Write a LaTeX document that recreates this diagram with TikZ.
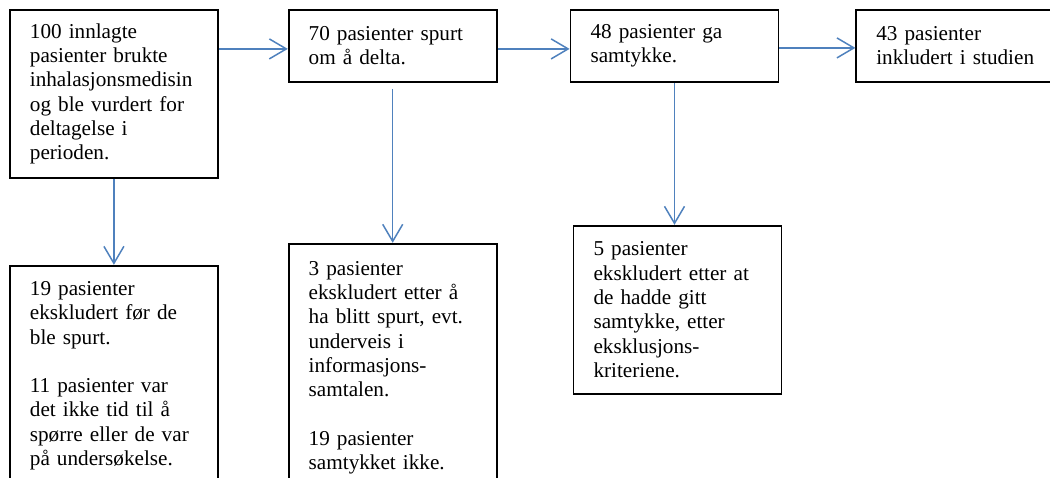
\documentclass[tikz,border=0pt]{standalone}
\usepackage{fontspec}
\setmainfont{Liberation Serif}
\usepackage{tikz}
\usetikzlibrary{arrows.meta,positioning}
\definecolor{wordblaa}{RGB}{79,129,189}
\tikzset{
    %Define standard arrow tip
    >={Straight Barb[length=17pt,width=20pt]},
    %Define style for boxes
    boks/.style={
           rectangle,
           draw=black, line width=1.8pt,
           text width=168pt,
           inner xsep=20pt,
           minimum height=72pt,
           align=left,
           font=\fontsize{21.2pt}{24.3pt}\selectfont},
    % Define arrow style
    pil/.style={
           ->,
           draw=wordblaa,
           line width=1.5pt,}
}
\begin{document}
\begin{tikzpicture}[x=1pt, y=1pt, node distance=69pt]
 \useasboundingbox (0,0) rectangle (1050,-477);

 \node[boks, anchor=north west, minimum height=168pt] (n100) at (9,-9)
   {100 innlagte\\ pasienter brukte\\ inhalasjonsmedisin\\ og ble vurdert for\\ deltagelse i\\ perioden.};
 \node[boks, right=69pt of n100.north east, anchor=north west] (n70)
   {70 pasienter spurt\\ om å delta.};
 \node[boks, right=72pt of n70.north east, anchor=north west] (n48)
   {48 pasienter ga\\ samtykke.};
 \node[boks, right=76pt of n48.north east, anchor=north west, text width=157pt] (n43)
   {43 pasienter\\ \mbox{inkludert i studien}};

 \node[boks, below=86pt of n100.south west, anchor=north west, minimum height=220pt] (n19)
   {19 pasienter\\ ekskludert før de\\ ble spurt.\\[24.3pt] 11 pasienter var\\ det ikke tid til å\\ spørre eller de var\\ på undersøkelse.};
 \node[boks, below=160pt of n70.south west, anchor=north west, minimum height=248pt] (n3)
   {3 pasienter\\ ekskludert etter å\\ ha blitt spurt, evt.\\ underveis i\\ informasjons-\\ samtalen.\\[24.3pt] 19 pasienter\\ samtykket ikke.};
 \node[boks, below=142pt of n48.south west, anchor=north west, xshift=3pt, minimum height=168pt] (n5)
   {5 pasienter\\ ekskludert etter at\\ de hadde gitt\\ samtykke, etter\\ eksklusjons-\\ kriteriene.};

 \draw[pil] (n100.east |- n70.west) ++(0,-3) -- ([yshift=-3pt]n70.west);
 \draw[pil] ([yshift=-3pt]n70.east) -- ([yshift=-3pt]n48.west);
 \draw[pil] ([yshift=-2pt]n48.east) -- ([yshift=-2pt]n43.west);
 \draw[pil] (n100.south) -- (n19.north);
 \draw[pil, shorten <=6pt] (n70.south) -- (n3.north);
 \draw[pil] (n48.south) -- (n48.south |- n5.north);
\end{tikzpicture}
\end{document}
